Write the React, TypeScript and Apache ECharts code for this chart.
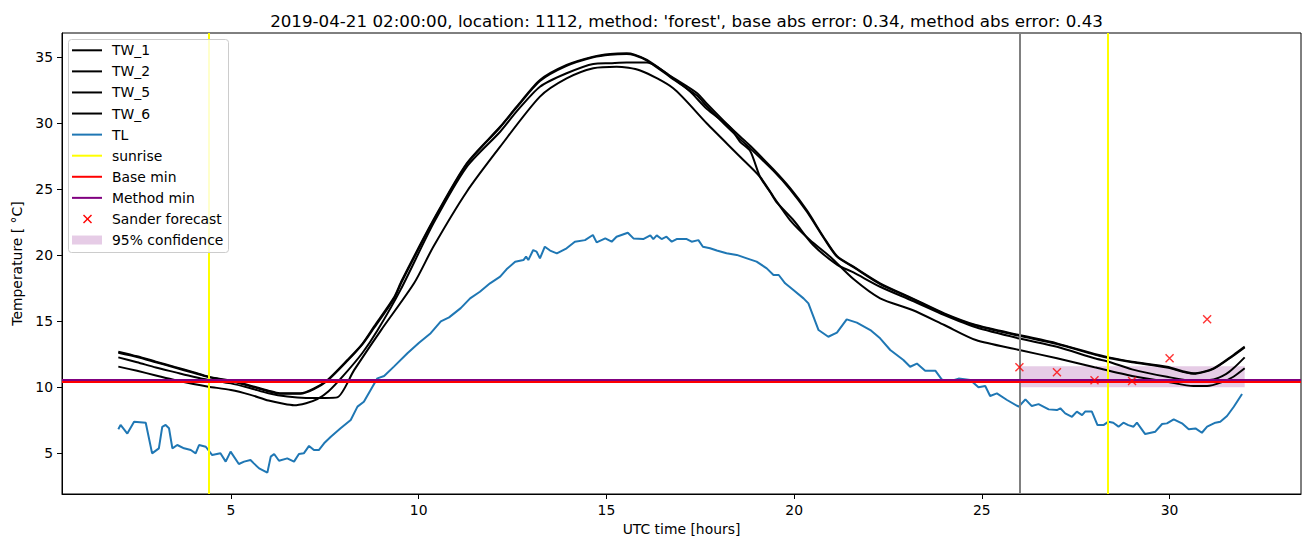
import React, { useEffect, useRef } from "react";
import * as echarts from "echarts";

const titleText =
  "2019-04-21 02:00:00, location: 1112, method: 'forest', base abs error: 0.34, method abs error: 0.43";
const xLabel = "UTC time [hours]";
const yLabel = "Temperature [ °C]";

const tw1: number[][] = [
  [2.0, 12.7], [2.5, 12.35], [3.0, 11.95], [3.5, 11.55], [4.0, 11.15], [4.4, 10.81], [5.0, 10.5], [5.5, 10.15],
  [6.0, 9.75], [6.3, 9.55], [6.85, 9.55], [7.2, 9.9], [7.57, 10.56], [8.1, 12.07], [8.5, 13.3], [8.81, 14.6],
  [9.34, 16.8], [9.55, 18.1], [10.39, 22.67], [11.28, 26.97], [12.17, 29.74], [12.61, 31.26], [13.23, 33.28],
  [13.94, 34.42], [14.65, 35.05], [15.1, 35.25], [15.54, 35.3], [15.75, 35.2], [16.08, 34.8], [16.7, 33.6],
  [17.41, 32.3], [17.67, 31.5], [18.12, 30.2], [18.56, 29.0], [18.83, 28.3], [19.45, 26.5], [19.89, 25.1],
  [20.34, 23.4], [20.78, 21.41], [21.14, 19.95], [21.58, 19.14], [22.29, 17.88], [23.15, 16.74], [24.0, 15.6],
  [24.84, 14.72], [26.0, 13.96], [27.0, 13.33], [28.0, 12.52], [28.38, 12.27], [29.0, 11.94], [29.93, 11.56],
  [30.64, 11.06], [31.17, 11.44], [31.7, 12.45], [32.0, 13.08],
];

const tw2: number[][] = [
  [2.0, 12.62], [2.5, 12.3], [3.0, 11.9], [3.5, 11.5], [4.0, 11.1], [4.4, 10.78], [5.0, 10.45], [5.5, 10.1],
  [6.0, 9.7], [6.3, 9.52], [6.85, 9.52], [7.2, 9.85], [7.57, 10.5], [8.1, 12.0], [8.5, 13.25], [8.81, 14.5],
  [9.34, 16.7], [9.55, 18.0], [10.39, 22.6], [11.28, 26.9], [12.17, 29.7], [12.61, 31.2], [13.23, 33.2],
  [13.94, 34.35], [14.65, 35.0], [15.1, 35.2], [15.54, 35.25], [15.75, 35.15], [16.08, 34.75], [16.7, 33.5],
  [17.41, 32.1], [17.67, 31.3], [18.12, 30.0], [18.56, 28.8], [18.83, 28.1], [19.45, 26.4], [19.89, 25.0],
  [20.34, 23.3], [20.78, 21.35], [21.14, 19.9], [21.58, 19.1], [22.29, 17.82], [23.15, 16.7], [24.0, 15.55],
  [24.84, 14.68], [26.0, 13.9], [27.0, 13.28], [28.0, 12.48], [28.38, 12.22], [29.0, 11.9], [29.93, 11.5],
  [30.64, 11.02], [31.17, 11.4], [31.7, 12.4], [32.0, 13.02],
];

const tw5: number[][] = [
  [2.0, 12.27], [2.5, 11.9], [3.0, 11.5], [3.5, 11.15], [4.0, 10.8], [4.4, 10.56], [5.0, 10.3], [5.5, 9.95],
  [6.0, 9.55], [6.5, 9.3], [7.0, 9.2], [7.5, 9.2], [7.83, 9.24], [8.28, 11.3], [8.99, 14.3], [9.88, 17.9],
  [10.39, 20.65], [11.28, 24.82], [12.17, 28.23], [13.23, 32.02], [13.94, 33.4], [14.65, 34.17], [15.27, 34.29],
  [15.9, 34.0], [16.78, 32.65], [17.67, 30.0], [18.56, 27.47], [19.09, 25.95], [19.45, 24.44],
  [19.89, 22.67], [20.42, 21.16], [20.96, 19.89], [21.58, 18.2], [22.29, 16.74], [23.15, 15.86], [24.0, 14.72],
  [24.84, 13.58], [26.0, 12.83], [27.0, 12.2], [28.0, 11.52], [29.0, 10.86], [29.93, 10.42], [30.64, 10.1],
  [31.0, 10.1], [31.4, 10.4], [31.7, 10.8], [32.0, 11.44],
];

const tw6: number[][] = [
  [2.0, 11.57], [2.5, 11.25], [3.0, 10.9], [3.5, 10.55], [4.0, 10.25], [4.4, 10.05], [5.0, 9.8], [5.5, 9.45],
  [6.0, 9.0], [6.4, 8.75], [6.68, 8.64], [7.0, 8.8], [7.3, 9.1], [7.6, 9.7], [8.0, 10.9], [8.5, 12.6],
  [8.9, 14.3], [9.52, 17.4], [10.39, 22.4], [11.28, 26.7], [12.17, 29.36], [12.61, 30.9], [13.23, 32.77],
  [13.94, 33.79], [14.65, 34.5], [15.1, 34.55], [15.54, 34.6], [16.08, 34.6], [16.78, 33.4], [17.23, 32.4],
  [17.67, 31.1], [18.29, 29.7], [18.56, 28.6], [18.83, 27.9], [19.09, 25.95], [19.36, 24.8], [19.54, 24.0],
  [20.0, 22.6], [20.5, 20.8], [21.14, 19.3], [21.58, 18.7], [22.29, 17.62], [23.15, 16.56], [24.0, 15.48],
  [24.84, 14.55], [26.0, 13.7], [27.0, 13.08], [28.0, 12.2], [28.38, 11.94], [29.0, 11.36], [29.93, 10.8],
  [30.64, 10.5], [31.17, 10.6], [31.5, 11.0], [31.7, 11.44], [32.0, 12.27],
];

const tl: number[][] = [
  [2.0, 6.82], [2.06, 7.15], [2.24, 6.5], [2.42, 7.4], [2.73, 7.32], [2.9, 5.0], [3.08, 5.38], [3.17, 7.0],
  [3.26, 7.15], [3.35, 6.9], [3.44, 5.38], [3.57, 5.63], [3.75, 5.38], [3.93, 5.25], [4.06, 5.0], [4.15, 5.63],
  [4.33, 5.5], [4.5, 4.87], [4.72, 5.0], [4.86, 4.37], [4.99, 5.13], [5.21, 4.19], [5.35, 4.37], [5.52, 4.5],
  [5.61, 4.24], [5.75, 3.86], [5.97, 3.54], [6.06, 4.75], [6.15, 4.95], [6.28, 4.44], [6.5, 4.62], [6.68, 4.37],
  [6.81, 4.95], [6.94, 5.0], [7.08, 5.56], [7.21, 5.25], [7.34, 5.25], [7.48, 5.76], [7.66, 6.26], [7.92, 6.9],
  [8.19, 7.53], [8.37, 8.54], [8.54, 8.91], [8.72, 9.8], [8.9, 10.68], [9.08, 10.86], [9.34, 11.57], [9.7, 12.58],
  [10.01, 13.38], [10.32, 14.1], [10.59, 15.0], [10.81, 15.3], [11.12, 16.0], [11.37, 16.74], [11.63, 17.24],
  [11.9, 17.88], [12.17, 18.38], [12.34, 18.94], [12.57, 19.52], [12.79, 19.64], [12.86, 19.9], [12.92, 19.64],
  [13.05, 20.4], [13.14, 20.28], [13.23, 19.77], [13.36, 20.65], [13.5, 20.36], [13.68, 20.15], [13.94, 20.53],
  [14.16, 21.03], [14.43, 21.15], [14.64, 21.54], [14.74, 20.98], [14.97, 21.28], [15.14, 21.03], [15.27, 21.41],
  [15.57, 21.71], [15.72, 21.28], [15.98, 21.23], [16.17, 21.51], [16.25, 21.23], [16.34, 21.51], [16.47, 21.23],
  [16.6, 21.41], [16.74, 21.03], [16.87, 21.23], [17.14, 21.23], [17.27, 21.03], [17.45, 21.15], [17.57, 20.65],
  [17.76, 20.53], [17.94, 20.36], [18.2, 20.15], [18.47, 20.03], [18.74, 19.77], [19.0, 19.52], [19.27, 19.01],
  [19.45, 18.51], [19.59, 18.51], [19.76, 17.88], [19.98, 17.37], [20.25, 16.74], [20.38, 16.36], [20.65, 14.34],
  [20.91, 13.83], [21.14, 14.14], [21.4, 15.15], [21.67, 14.9], [22.03, 14.34], [22.29, 13.71], [22.56, 12.83],
  [22.91, 12.07], [23.09, 11.56], [23.27, 11.8], [23.49, 11.26], [23.76, 11.26], [23.93, 10.6], [24.11, 10.43],
  [24.38, 10.66], [24.69, 10.56], [24.91, 10.0], [25.09, 10.1], [25.22, 9.34], [25.4, 9.54], [25.67, 9.04],
  [25.98, 8.53], [26.16, 9.09], [26.33, 8.58], [26.51, 8.73], [26.78, 8.33], [27.0, 8.28], [27.09, 8.41],
  [27.22, 8.03], [27.4, 7.77], [27.53, 8.16], [27.67, 7.9], [27.75, 8.16], [27.93, 8.16], [28.08, 7.14],
  [28.24, 7.14], [28.37, 7.4], [28.5, 7.32], [28.64, 7.02], [28.77, 7.32], [28.9, 7.14], [29.04, 7.02],
  [29.13, 7.32], [29.35, 6.46], [29.62, 6.64], [29.8, 7.22], [29.93, 7.27], [30.11, 7.58], [30.33, 7.27],
  [30.51, 6.82], [30.69, 6.89], [30.86, 6.56], [31.0, 7.02], [31.22, 7.32], [31.35, 7.4], [31.53, 7.83],
  [31.71, 8.53], [31.93, 9.49],
];

const sunriseTimes = [4.4, 28.35];
const forecastStart = 26;
const baseMin = 10.45;
const methodMin = 10.58;
const sanderX = [26, 27, 28, 29, 30, 31];
const sanderY = [11.52, 11.14, 10.53, 10.48, 12.2, 15.15];
const confX = [26, 32];
const confLow = 10.0;
const confHigh = 11.6;

const FONT = "DejaVu Sans";
const TL_COLOR = "#1f77b4";

const legendItems = [
  { name: "TW_1", kind: "line", color: "#000000" },
  { name: "TW_2", kind: "line", color: "#000000" },
  { name: "TW_5", kind: "line", color: "#000000" },
  { name: "TW_6", kind: "line", color: "#000000" },
  { name: "TL", kind: "line", color: TL_COLOR },
  { name: "sunrise", kind: "line", color: "#ffff00" },
  { name: "Base min", kind: "line", color: "#ff0000" },
  { name: "Method min", kind: "line", color: "#800080" },
  { name: "Sander forecast", kind: "marker", color: "#ff0000" },
  { name: "95% confidence", kind: "patch", color: "rgba(128,0,128,0.2)" },
];

function buildLegend() {
  const els: any[] = [];
  els.push({
    type: "rect",
    shape: { x: 68.5, y: 39.5, width: 160, height: 213, r: 3 },
    style: { fill: "rgba(255,255,255,0.8)", stroke: "#cccccc", lineWidth: 1 },
    z: 100,
  });
  legendItems.forEach((it, i) => {
    const y = 50.3 + 21.08 * i;
    if (it.kind === "line") {
      els.push({
        type: "line",
        shape: { x1: 72, y1: y, x2: 102, y2: y },
        style: { stroke: it.color, lineWidth: 2 },
        z: 101,
      });
    } else if (it.kind === "marker") {
      els.push({
        type: "line",
        shape: { x1: 83.5, y1: y - 4, x2: 91.5, y2: y + 4 },
        style: { stroke: it.color, lineWidth: 1.4 },
        z: 101,
      });
      els.push({
        type: "line",
        shape: { x1: 83.5, y1: y + 4, x2: 91.5, y2: y - 4 },
        style: { stroke: it.color, lineWidth: 1.4 },
        z: 101,
      });
    } else {
      els.push({
        type: "rect",
        shape: { x: 72, y: y - 4.5, width: 30, height: 9 },
        style: { fill: it.color },
        z: 101,
      });
    }
    els.push({
      type: "text",
      x: 112,
      y: y,
      style: {
        text: it.name,
        fontSize: 13.9,
        fontFamily: FONT,
        fill: "#000000",
        verticalAlign: "middle",
        align: "left",
      },
      z: 101,
    });
  });
  return els;
}

function lineSeries(name: string, data: number[][], color: string, smooth: number) {
  return {
    name,
    type: "line",
    data,
    showSymbol: false,
    symbol: "none",
    smooth,
    lineStyle: { color, width: 2 },
    itemStyle: { color },
    emphasis: { disabled: true },
    silent: true,
    z: 3,
  };
}

function markLineSeries(name: string, color: string, data: any[], z: number) {
  return {
    name,
    type: "line",
    data: [],
    silent: true,
    z,
    markLine: {
      silent: true,
      symbol: ["none", "none"],
      label: { show: false },
      emphasis: { disabled: true },
      lineStyle: { color, width: 2, type: "solid" },
      data,
    },
  };
}

export default function App() {
  const ref = useRef<HTMLDivElement>(null);
  useEffect(() => {
    if (!ref.current) return;
    const chart = echarts.init(ref.current, undefined, { renderer: "svg" });
    const axisCommon = {
      axisLine: { show: true, onZero: false, lineStyle: { color: "#000", width: 1 } },
      axisTick: { show: true, inside: false, length: 5, lineStyle: { color: "#000", width: 1 } },
      axisLabel: {
        color: "#000",
        fontSize: 13.9,
        fontFamily: FONT,
        margin: 9,
        showMinLabel: false,
        showMaxLabel: false,
      },
      splitLine: { show: false },
    };
    const option: any = {
      animation: false,
      backgroundColor: "#ffffff",
      textStyle: { fontFamily: FONT },
      title: {
        text: titleText,
        left: 681.5,
        textAlign: "center",
        top: 7,
        textStyle: { fontSize: 16.7, fontWeight: "normal", color: "#000", fontFamily: FONT },
      },
      grid: {
        left: 62,
        top: 33,
        width: 1239,
        height: 461,
        show: true,
        borderColor: "#000",
        borderWidth: 1,
        backgroundColor: "transparent",
      },
      xAxis: {
        type: "value",
        min: 0.5,
        max: 33.5,
        splitNumber: 7,
        name: xLabel,
        nameLocation: "middle",
        nameGap: 28,
        nameTextStyle: { fontSize: 13.9, color: "#000", fontFamily: FONT, verticalAlign: "top" },
        ...axisCommon,
      },
      yAxis: {
        type: "value",
        min: 1.92,
        max: 36.84,
        splitNumber: 7,
        name: yLabel,
        nameLocation: "middle",
        nameGap: 36,
        nameRotate: 90,
        nameTextStyle: { fontSize: 13.9, color: "#000", fontFamily: FONT },
        ...axisCommon,
      },
      graphic: buildLegend(),
      series: [
        lineSeries("TW_1", tw1, "#000000", 0.25),
        lineSeries("TW_2", tw2, "#000000", 0.25),
        lineSeries("TW_5", tw5, "#000000", 0.25),
        lineSeries("TW_6", tw6, "#000000", 0.25),
        lineSeries("TL", tl, TL_COLOR, 0),
        markLineSeries("sunrise", "#ffff00", sunriseTimes.map((t) => ({ xAxis: t })), 4),
        markLineSeries("forecast start", "#808080", [{ xAxis: forecastStart }], 4),
        markLineSeries("Base min", "#ff0000", [{ yAxis: baseMin }], 5),
        markLineSeries("Method min", "#800080", [{ yAxis: methodMin }], 6),
        {
          name: "Sander forecast",
          type: "scatter",
          data: sanderX.map((x, i) => [x, sanderY[i]]),
          symbol: "path://M0,0L10,10M10,0L0,10",
          symbolSize: 8,
          silent: true,
          z: 8,
          itemStyle: { color: "none", borderColor: "#ff0000", borderWidth: 1.4 },
        },
        {
          name: "95% confidence",
          type: "line",
          data: [],
          silent: true,
          z: 7,
          markArea: {
            silent: true,
            itemStyle: { color: "rgba(128,0,128,0.2)" },
            label: { show: false },
            data: [[{ xAxis: confX[0], yAxis: confLow }, { xAxis: confX[1], yAxis: confHigh }]],
          },
        },
      ],
    };
    chart.setOption(option);
    return () => chart.dispose();
  }, []);
  return (
    <div
      ref={ref}
      style={{ position: "absolute", left: 0, top: 0, width: 1310, height: 547, background: "#fff" }}
    />
  );
}
